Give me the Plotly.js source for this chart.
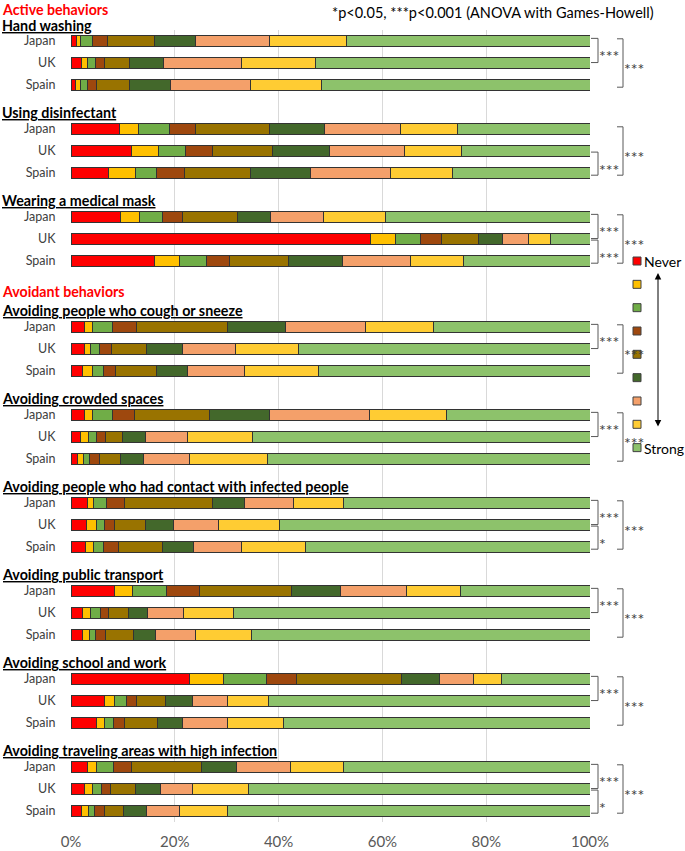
<!DOCTYPE html>
<html>
<head>
<meta charset="utf-8">
<script src="https://cdn.plot.ly/plotly-3.0.1.min.js"></script>
<style>html,body{margin:0;padding:0;background:#fff;}#chart{width:685px;height:851px;}</style>
</head>
<body>
<div id="chart"></div>
<script>
// ---- data (percent of respondents per response level, Never -> Strong) ----
const countries = ['Japan', 'UK', 'Spain'];
const behaviors = ['Hand washing', 'Using disinfectant', 'Wearing a medical mask',
  'Avoiding people who cough or sneeze', 'Avoiding crowded spaces',
  'Avoiding people who had contact with infected people', 'Avoiding public transport',
  'Avoiding school and work', 'Avoiding traveling areas with high infection'];
const sections = ['Active behaviors', 'Avoidant behaviors'];
const sectionStart = [0, 3]; // behavior index where each section starts
const levelNames = ['Never', '', '', '', '', '', '', '', 'Strong'];
const xTickVals = [0, 20, 40, 60, 80, 100];
const xTickText = ['0%', '20%', '40%', '60%', '80%', '100%'];

const handWashing  = [[1.1,0.8,2.3,2.8,9.0,7.9,14.4,14.8,46.9],[2.1,1.1,1.6,1.7,4.8,6.5,15.0,14.3,52.9],[0.8,1.0,1.3,1.9,6.2,7.9,15.5,13.7,51.7]];
const disinfectant = [[9.3,3.7,5.9,5.1,14.2,10.6,14.6,11.0,25.6],[11.7,5.1,5.2,5.2,11.6,11.1,14.3,11.1,24.7],[7.3,5.1,4.1,5.3,12.8,11.6,15.3,12.0,26.5]];
const medicalMask  = [[9.5,3.7,4.5,3.7,10.6,6.5,10.1,11.9,39.5],[57.7,4.9,4.8,4.0,7.2,4.5,5.1,4.2,7.6],[16.1,4.9,5.1,4.5,11.3,10.4,13.1,10.2,24.4]];
const coughSneeze  = [[2.6,1.5,3.8,4.7,17.5,11.3,15.4,13.0,30.2],[2.6,1.1,1.8,2.3,6.8,6.8,10.3,12.2,56.1],[2.2,2.0,2.0,2.3,7.9,6.0,11.0,14.2,52.4]];
const crowded      = [[2.6,1.5,3.9,4.3,14.3,11.7,19.2,14.8,27.7],[1.8,1.5,1.7,1.6,3.4,4.4,8.1,12.5,65.0],[1.2,1.2,1.1,1.9,4.1,4.5,8.9,14.9,62.2]];
const contact      = [[3.1,1.2,2.5,3.5,17.0,6.2,9.4,9.7,47.4],[2.9,2.0,1.6,1.8,6.1,5.4,8.7,11.6,59.9],[2.8,1.5,1.9,2.9,8.6,5.9,9.3,12.2,54.9]];
const transport    = [[8.4,3.5,6.5,6.3,17.8,9.4,12.7,10.4,25.0],[2.2,1.5,1.9,1.6,3.8,3.8,6.8,9.7,68.7],[2.2,1.3,1.3,1.9,5.3,4.2,7.8,10.8,65.2]];
const schoolWork   = [[22.9,6.4,8.4,5.8,20.1,7.4,6.6,5.4,17.0],[6.4,1.9,2.3,2.0,5.7,5.1,6.7,8.0,61.9],[5.0,1.5,1.6,2.2,6.4,4.8,8.6,10.8,59.1]];
const traveling    = [[3.2,1.7,3.3,3.4,13.5,6.8,10.3,10.4,47.4],[2.6,1.6,1.7,1.7,4.9,4.8,6.1,10.8,65.8],[2.1,1.3,1.2,1.9,3.7,4.3,6.4,9.2,69.9]];
const allData = [handWashing, disinfectant, medicalMask, coughSneeze, crowded, contact, transport, schoolWork, traveling];

// significance tests: [behavior index, country index A, country index B, label]
const sigTests = [
  [0,0,1,'***'],[0,0,2,'***'],
  [1,1,2,'***'],[1,0,2,'***'],
  [2,0,1,'***'],[2,1,2,'***'],[2,0,2,'***'],
  [3,0,1,'***'],[3,0,2,'***'],
  [4,0,1,'***'],[4,0,2,'***'],
  [5,0,1,'***'],[5,1,2,'*'],[5,0,2,'***'],
  [6,0,1,'***'],[6,0,2,'***'],
  [7,0,1,'***'],[7,0,2,'***'],
  [8,0,1,'***'],[8,1,2,'*'],[8,0,2,'***']
];
const noteText = '*p<0.05, ***p<0.001 (ANOVA with Games-Howell)';

// ---- styles ----
const colors = ['#FF0000','#FFC000','#70AD47','#9E480E','#997300','#43682B','#F4A06A','#FFCC33','#8DC26B'];
const FONT = 'Lato, "Open Sans", sans-serif';

// ---- layout helpers ----
const groupStart = [];
{ let s = 0; behaviors.forEach((b, i) => { if (i > 0 && sectionStart.includes(i)) s += 1; groupStart.push(s); s += 4; }); }
const yPos = (g, c) => groupStart[g] + c;

const yVals = [], yText = [];
behaviors.forEach((b, g) => countries.forEach((c, ci) => { yVals.push(yPos(g, ci)); yText.push(c); }));

const traces = levelNames.map((nm, li) => ({
  type: 'bar', orientation: 'h',
  name: nm || ('level ' + (li + 1)),
  y: yVals,
  x: allData.flatMap(g => g.map(row => row[li])),
  width: 0.52,
  marker: { color: colors[li], line: { color: '#333333', width: 1 } },
  showlegend: false,
  hovertemplate: '%{x}%<extra></extra>'
}));

const L = 71, R = 590, T = 30, B = 822, W = 685, H = 851;
const Y0 = -0.5, Y1 = 35.5;
const px2paperX = p => (p - L) / (R - L);
const px2paperY = p => 1 - (p - T) / (B - T);
const slot2paperY = s => 1 - (s - Y0) / (Y1 - Y0);

const annotations = [], shapes = [];
// section and behavior titles
sections.forEach((s, si) => {
  const g = sectionStart[si];
  const pos = si === 0
    ? { y: px2paperY(0), yanchor: 'top' }
    : { y: slot2paperY(groupStart[g] - 1.6), yanchor: 'middle' };
  annotations.push(Object.assign({ xref: 'paper', yref: 'paper', x: px2paperX(1), xanchor: 'left', borderpad: 0,
    text: '<b>' + s + '</b>', showarrow: false, font: { family: FONT, size: 14.2, color: '#FF0000' } }, pos));
});
behaviors.forEach((b, g) => {
  annotations.push({ xref: 'paper', yref: 'paper', x: px2paperX(1), y: slot2paperY(groupStart[g] - (g === 0 ? 0.7 : 0.74)), xanchor: 'left', yanchor: 'middle',
    borderpad: 0, text: '<b><u>' + b + '</u></b>', showarrow: false, font: { family: FONT, size: 14.3, color: '#000000' } });
});
// significance brackets
sigTests.forEach(([g, a, b, lab]) => {
  const outer = (b - a) === 2;
  const x0 = px2paperX(outer ? 617 : 591), x1 = px2paperX(outer ? 623 : 598);
  let y0, y1;
  if (outer) { y0 = yPos(g, a) - 0.1; y1 = yPos(g, b) + 0.1; }
  else if (a === 0) { y0 = yPos(g, a) - 0.12; y1 = yPos(g, b) - 0.02; }
  else { y0 = yPos(g, a) + 0.05; y1 = yPos(g, b) + 0.1; }
  shapes.push({ type: 'path', xref: 'paper', yref: 'y',
    path: `M${x0},${y0} L${x1},${y0} L${x1},${y1} L${x0},${y1}`,
    line: { color: '#595959', width: 1 } });
  annotations.push({ xref: 'paper', yref: 'paper', x: px2paperX(outer ? 623 : 598), y: slot2paperY((y0 + y1) / 2 + 0.25),
    xanchor: 'left', yanchor: 'middle', text: lab, showarrow: false, borderpad: 0,
    font: { family: FONT, size: 16, color: '#404040' } });
});
// note
annotations.push({ xref: 'paper', yref: 'paper', x: px2paperX(492.5), y: px2paperY(12), xanchor: 'center', yanchor: 'middle',
  text: noteText, showarrow: false, font: { family: FONT, size: 14.5, color: '#000000' } });
// legend (drawn)
const legTop = 261, legStep = 23.33;
levelNames.forEach((nm, li) => {
  const cy = legTop + li * legStep;
  shapes.push({ type: 'rect', xref: 'paper', yref: 'paper',
    x0: px2paperX(633), x1: px2paperX(641), y0: px2paperY(cy - 4), y1: px2paperY(cy + 4),
    fillcolor: colors[li], line: { color: '#404040', width: 1 } });
  if (nm) annotations.push({ xref: 'paper', yref: 'paper', x: px2paperX(643), y: px2paperY(cy + (li === 8 ? 1 : 0)), xanchor: 'left', yanchor: 'middle',
    borderpad: 0, text: nm, showarrow: false, font: { family: FONT, size: 14, color: '#000000' } });
});
// double-headed arrow
annotations.push({ xref: 'paper', yref: 'paper', x: px2paperX(658), y: px2paperY(273), text: '', showarrow: true,
  ax: 0, ay: 155, arrowside: 'end+start', arrowhead: 2, startarrowhead: 2, arrowsize: 1.3, startarrowsize: 1.3,
  arrowwidth: 1, arrowcolor: '#000000' });

const layout = {
  width: W, height: H,
  margin: { l: L, r: W - R, t: T, b: H - B, pad: 0 },
  paper_bgcolor: '#ffffff', plot_bgcolor: '#ffffff',
  barmode: 'stack', bargap: 0,
  showlegend: false,
  font: { family: FONT, color: '#404040' },
  xaxis: { range: [0, 100], tickmode: 'array', tickvals: xTickVals, ticktext: xTickText, showgrid: true,
    gridcolor: '#d9d9d9', gridwidth: 1, zeroline: false, showline: false, ticks: 'outside', ticklen: 6, tickcolor: 'rgba(0,0,0,0)',
    tickfont: { family: FONT, size: 15, color: '#595959' }, fixedrange: true },
  yaxis: { range: [Y1, Y0], tickmode: 'array', tickvals: yVals, ticktext: yText, showgrid: false, zeroline: false,
    showline: false, ticks: 'outside', ticklen: 12, tickcolor: 'rgba(0,0,0,0)',
    tickfont: { family: FONT, size: 12.5, color: '#404040' }, fixedrange: true },
  annotations: annotations,
  shapes: shapes
};

Plotly.newPlot('chart', traces, layout, { displayModeBar: false, staticPlot: true });
</script>
</body>
</html>
